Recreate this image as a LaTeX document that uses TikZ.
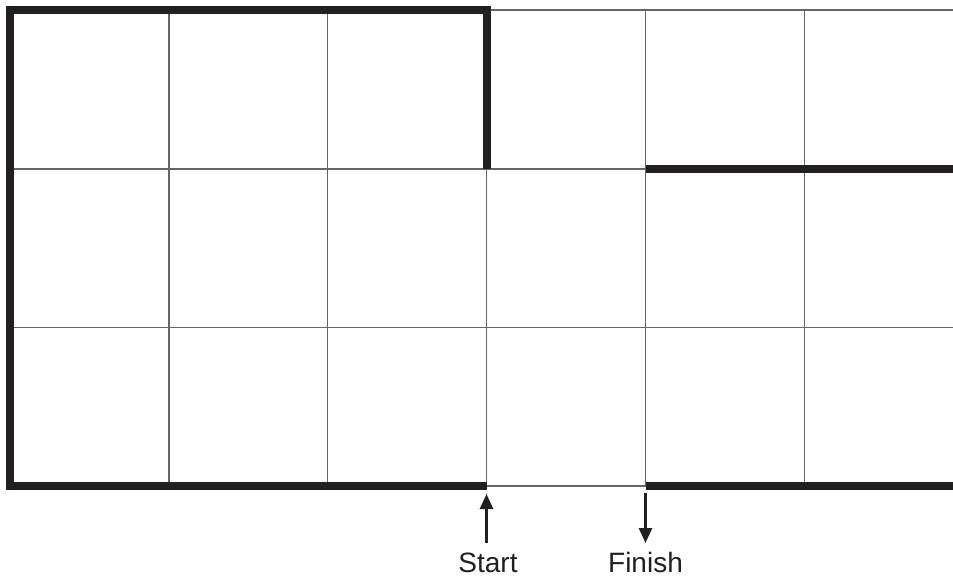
\documentclass[tikz,border=0pt]{standalone}
\usepackage{fontspec}
\setmainfont{Liberation Sans}
\usetikzlibrary{arrows.meta}
\definecolor{ink}{HTML}{231F20}
\definecolor{gridgray}{HTML}{666666}
\tikzset{
  thin grid/.style={draw=gridgray, line width=1.1pt},
  wall/.style={draw=ink, line width=8pt, line cap=butt, line join=miter},
  pointer/.style={draw=ink, line width=2.6pt, -{Triangle[width=13pt,length=15pt]}},
  lbl/.style={font=\fontsize{28}{32}\selectfont, text=ink, inner sep=0pt, anchor=base}
}
\begin{document}
\begin{tikzpicture}[x=1pt,y=-1pt]
\useasboundingbox (0,0) rectangle (953,579);
% grid coordinates
\foreach \i/\x in {0/10,1/169,2/327.5,3/486.5,4/645.5,5/804.5,6/953}{
  \foreach \j/\y in {0/10,1/169,2/327.5,3/486}{
    \coordinate (p\i\j) at (\x,\y);
  }
}
% thin horizontal lines
\foreach \j in {0,1,2,3}{ \draw[thin grid] (p0\j) -- (p6\j); }
% thin vertical lines
\foreach \i in {0,1,2,3,4,5}{ \draw[thin grid] (p\i0) -- (p\i3); }
% walls
\draw[wall] (p31) -- (p30) -- (p00) -- (p03) -- (p33);
\draw[wall] (p41) -- (p61);
\draw[wall] (p43) -- (p63);
% labels
\node[lbl] (start) at (488,572) {Start};
\node[lbl] (finish) at (645.5,572) {Finish};
\coordinate (sa) at (486.5,543);
\coordinate (sb) at (486.5,494);
\coordinate (fa) at (645.5,493);
\coordinate (fb) at (645.5,543);
\draw[pointer] (sa) -- (sb);
\draw[pointer] (fa) -- (fb);
\end{tikzpicture}
\end{document}
